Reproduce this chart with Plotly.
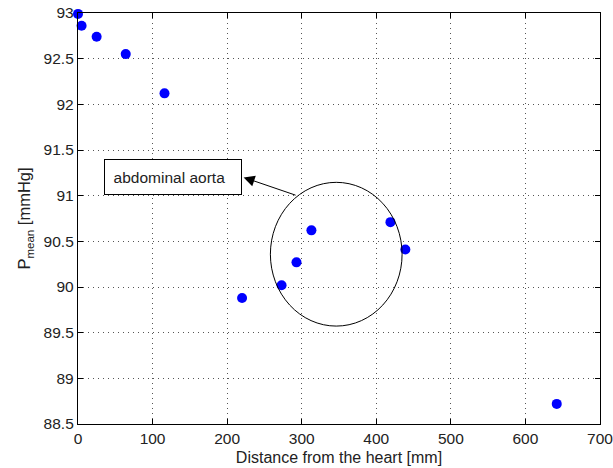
import plotly.graph_objects as go

# Data
distance_mm = [0, 4.8, 25, 64, 116, 220, 273, 293, 313, 419, 439, 642]
p_mean = [92.99, 92.86, 92.74, 92.55, 92.12, 89.88, 90.02, 90.27, 90.62, 90.71, 90.41, 88.72]

x_ticks = [0, 100, 200, 300, 400, 500, 600, 700]
y_ticks = [88.5, 89, 89.5, 90, 90.5, 91, 91.5, 92, 92.5, 93]

annotation_text = "abdominal aorta"

FONT = "Liberation Sans, Arial, Helvetica, sans-serif"

fig = go.Figure()
fig.add_trace(go.Scatter(
    x=distance_mm, y=p_mean, mode="markers",
    marker=dict(color="#0000ff", size=10, line=dict(width=0)),
    showlegend=False, cliponaxis=False,
))

axis_common = dict(
    showline=True, linecolor="black", linewidth=1.3, mirror="ticks",
    ticks="inside", ticklen=5, tickcolor="black", tickwidth=1,
    showgrid=True, gridcolor="#555555", gridwidth=1, griddash="1px,4px",
    zeroline=False, tickfont=dict(family=FONT, size=15.5, color="#222"),
    automargin=False, ticklabeloverflow="allow",
)

fig.update_xaxes(
    range=[0, 700], tickvals=x_ticks, ticktext=[str(v) for v in x_ticks],
    title=dict(text="Distance from the heart [mm]", font=dict(family=FONT, size=16, color="#222"), standoff=6),
    **axis_common,
)
fig.update_yaxes(
    range=[88.5, 93], tickvals=y_ticks, ticktext=[f"{v:g}" for v in y_ticks],
    title=dict(text="P<sub>mean</sub> [mmHg]", font=dict(family=FONT, size=16.5, color="#222"), standoff=8),
    **axis_common,
)

# ellipse marking the abdominal aorta region
fig.add_shape(type="circle", xref="x", yref="y", x0=258, x1=434.6, y0=89.572, y1=91.146,
              line=dict(color="black", width=1))

# text box
fig.add_annotation(x=127, y=91.2, xref="x", yref="y", text="  " + annotation_text, showarrow=False,
                   font=dict(family=FONT, size=15.5, color="#222"),
                   bordercolor="black", borderwidth=1, borderpad=0,
                   width=136, height=34, align="left", bgcolor="white")
# arrow from the ellipse to the text box
fig.add_annotation(x=222.1, y=91.2, xref="x", yref="y", ax=293.8, ay=91.0, axref="x", ayref="y",
                   text="", showarrow=True, arrowhead=2, arrowsize=2.2, arrowwidth=1, arrowcolor="black")

fig.update_layout(
    width=613, height=468,
    margin=dict(l=78, r=13, t=13, b=44),
    paper_bgcolor="white", plot_bgcolor="white",
    font=dict(family=FONT),
)

fig.write_html("out.html")
